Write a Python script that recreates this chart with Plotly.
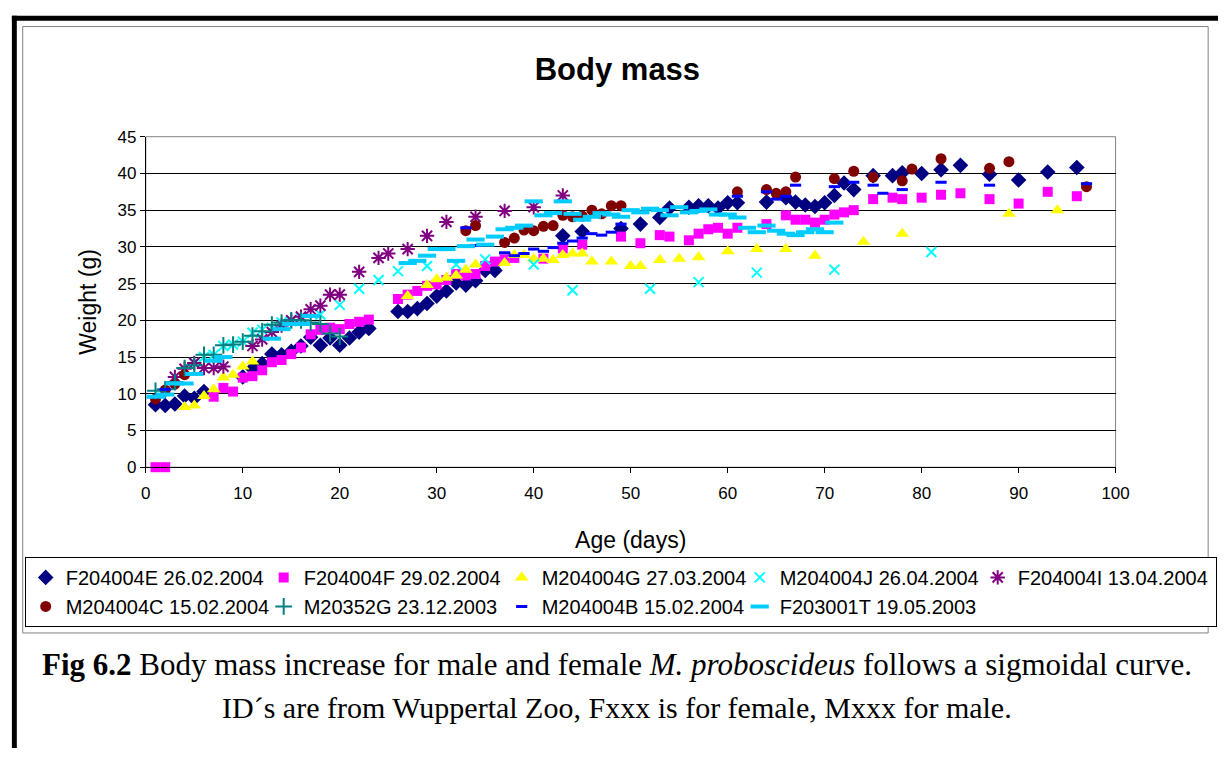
import plotly.graph_objects as go

W, H = 1232, 758

# ---------------- data ----------------
E_days = [1, 2, 3, 4, 5, 6, 10, 11, 12, 13, 14, 15, 16, 17, 18, 19, 20, 21, 22, 23,
          26, 27, 28, 29, 30, 31, 32, 33, 34, 35, 36, 43, 45, 49, 51, 53, 54, 56, 57, 58,
          59, 60, 61, 64, 66, 67, 68, 69, 70, 71, 72, 73, 75, 77, 78, 80, 82, 84, 87, 90, 93, 96]
E_wt = [8.5, 8.4, 8.6, 9.7, 9.4, 10.3, 12.3, 13.4, 14.1, 15.4, 15.3, 15.8, 16.5, 17.7, 16.6, 17.6, 16.6, 17.6, 18.4, 18.9,
        21.2, 21.2, 21.6, 22.3, 23.3, 24.0, 25.1, 24.8, 25.4, 26.8, 26.8, 31.5, 32.1, 32.5, 33.1, 34.0, 35.3, 35.4, 35.6, 35.6,
        35.3, 36.0, 36.0, 36.1, 36.7, 36.1, 35.7, 35.5, 36.0, 37.0, 38.7, 37.8, 39.7, 39.7, 40.1, 40.0, 40.5, 41.1, 39.9, 39.1, 40.2, 40.8]

F_days = [1, 2, 7, 8, 9, 10, 11, 12, 13, 14, 15, 16, 17, 18, 19, 20, 21, 22, 23,
          26, 27, 28, 29, 30, 31, 32, 33, 34, 35, 36, 37, 38,
          41, 43, 45, 49, 51, 53, 54, 56, 57, 58, 59, 60, 61,
          64, 66, 67, 68, 69, 70, 71, 72, 73,
          75, 77, 78, 80, 82, 84, 87, 90, 93, 96]
F_wt = [0, 0, 9.6, 10.8, 10.3, 12.2, 12.4, 13.2, 14.3, 14.6, 15.4, 16.3, 18.1, 18.7, 19.0, 18.8, 19.5, 19.8, 20.1,
        22.9, 23.5, 24.0, 24.7, 24.9, 25.5, 26.3, 26.1, 26.3, 27.4, 28.0, 28.3, 28.5,
        28.4, 29.8, 30.3, 31.4, 30.5, 31.6, 31.4, 30.9, 31.8, 32.4, 32.6, 31.8, 32.6,
        33.1, 34.3, 33.7, 33.7, 33.3, 33.7, 34.4, 34.7, 35.0,
        36.5, 36.7, 36.5, 36.7, 37.1, 37.3, 36.5, 35.9, 37.5, 36.9]

G_days = [4, 5, 6, 7, 8, 9, 10, 11, 27, 29, 30, 31, 32, 33, 34,
          37, 38, 39, 40, 41, 42, 43, 44, 45, 46,
          48, 50, 51, 53, 55, 57, 60, 63, 66, 69, 74, 78, 89, 94]
G_wt = [8.2, 8.4, 9.7, 10.6, 12.2, 12.6, 13.7, 14.4, 23.3, 24.8, 25.6, 25.8, 26.1, 26.9, 27.6,
        27.8, 28.9, 28.9, 28.4, 28.4, 28.2, 28.9, 29.1, 29.1, 28.0,
        28.0, 27.4, 27.4, 28.2, 28.4, 28.6, 29.4, 29.7, 29.7, 28.8, 30.7, 31.8, 34.5, 35.0]

J_days = [5, 6, 7, 8, 9, 10, 11, 12, 13, 14, 15, 16, 18, 20, 22, 24, 26, 29, 32, 35,
          40, 44, 52, 57, 63, 71, 81]
J_wt = [14.2, 15.0, 15.3, 16.5, 16.7, 17.1, 18.3, 18.7, 19.0, 19.7, 19.9, 20.3, 20.8, 22.1, 24.3, 25.5, 26.7, 27.4, 27.6, 28.3,
        27.6, 24.1, 24.3, 25.2, 26.5, 26.9, 29.3]

I_days = [3, 4, 5, 6, 7, 8, 11, 12, 13, 14, 15, 16, 17, 18, 19, 20,
          22, 24, 25, 27, 29, 31, 34, 37, 40, 43]
I_wt = [12.3, 13.4, 14.2, 13.5, 13.5, 13.7, 16.5, 17.4, 18.4, 19.3, 20.0, 20.5, 21.5, 22.0, 23.5, 23.5,
        26.6, 28.5, 29.1, 29.7, 31.5, 33.4, 34.1, 34.9, 35.4, 37.0]

C_days = [1, 2, 3, 4, 33, 34, 37, 38, 39, 40, 41, 42, 43, 44, 45, 46, 47, 48, 49,
          61, 64, 65, 66, 67, 71, 73, 75, 78, 79, 82, 87, 89, 97]
C_wt = [9.3, 10.5, 11.3, 12.6, 32.2, 32.9, 30.6, 31.2, 32.3, 32.2, 32.8, 32.9, 34.3, 34.1, 34.2, 35.0, 34.5, 35.6, 35.6,
        37.5, 37.8, 37.3, 37.5, 39.5, 39.3, 40.3, 39.5, 39.0, 40.6, 42.0, 40.7, 41.6, 38.2]

G352_days = [1, 2, 3, 4, 5, 6, 7, 8, 9, 10, 11, 12, 13, 14, 15, 16, 17, 18, 19, 20]
G352_wt = [10.4, 10.6, 11.6, 13.5, 13.9, 15.3, 15.3, 16.6, 16.7, 17.1, 17.9, 18.5, 19.4, 19.7, 20.0, 20.0, 19.7, 19.5, 18.2, 17.8]

B_days = [2, 33, 34, 37, 38, 39, 40, 41, 42, 43, 44, 45, 46, 47, 48, 49,
          61, 64, 65, 66, 67, 71, 73, 75, 76, 78, 82, 87, 97]
B_wt = [10.6, 32.6, 30.2, 29.2, 28.8, 29.1, 29.7, 29.4, 29.9, 30.5, 30.8, 31.2, 31.8, 31.6, 32.0, 33.1,
        36.9, 37.5, 36.5, 36.9, 38.4, 38.2, 38.8, 38.4, 37.3, 37.8, 38.8, 38.4, 38.6]

T_days = [1, 2, 3, 4, 5, 7, 8, 13, 14, 15, 16, 17,
          27, 28, 29, 30, 31, 32, 33, 34, 35, 36, 37, 38, 39, 40, 41, 42, 43, 44, 45, 46, 47, 48, 49,
          50, 51, 52, 53, 54, 55, 56, 57, 58, 59, 60, 61, 62, 63, 64, 65, 66, 67, 68, 69, 70, 71]
T_wt = [9.6, 9.9, 11.4, 11.4, 12.7, 14.5, 15.0, 17.5, 18.8, 19.5, 19.5, 20.6,
        27.8, 28.1, 28.8, 29.7, 29.7, 28.1, 30.1, 31.0, 30.3, 31.4, 32.4, 32.6, 32.9, 36.2, 34.3, 34.6, 36.2, 34.5, 33.7, 34.1, 34.6, 34.4, 34.1,
        35.0, 34.7, 35.2, 35.0, 34.3, 35.4, 34.7, 34.9, 35.1, 34.4, 34.4, 34.0, 32.6, 32.0, 32.9, 32.2, 31.8, 31.6, 32.0, 32.4, 32.0, 33.3]

x_ticks = [0, 10, 20, 30, 40, 50, 60, 70, 80, 90, 100]
y_ticks = [0, 5, 10, 15, 20, 25, 30, 35, 40, 45]

SANS = "Liberation Sans, Arial, sans-serif"
SERIF = "Liberation Serif, Times New Roman, serif"


def px_x(p):
    return p / W


def px_y(p):
    return 1 - p / H


fig = go.Figure()

series = [
    ("F204004E 26.02.2004", E_days, E_wt, dict(symbol="diamond", size=12, color="#000080")),
    ("F204004F 29.02.2004", F_days, F_wt, dict(symbol="square", size=10, color="#FF00FF")),
    ("M204004G 27.03.2004", G_days, G_wt, dict(symbol="triangle-up", size=12, color="#FFFF00")),
    ("M204004J 26.04.2004", J_days, J_wt, dict(symbol="x-thin-open", size=10, color="#00FFFF",
                                               line=dict(color="#00FFFF", width=2))),
    ("F204004I 13.04.2004", I_days, I_wt, dict(symbol="asterisk-open", size=12, color="#800080",
                                               line=dict(color="#800080", width=2))),
    ("M204004C 15.02.2004", C_days, C_wt, dict(symbol="circle", size=11, color="#800000")),
    ("M20352G 23.12.2003", G352_days, G352_wt, dict(symbol="cross-thin-open", size=12, color="#008080",
                                                    line=dict(color="#008080", width=2))),
    ("M204004B 15.02.2004", B_days, B_wt, dict(symbol="line-ew-open", size=8, color="#0000FF",
                                               line=dict(color="#0000FF", width=3))),
    ("F203001T 19.05.2003", T_days, T_wt, dict(symbol="line-ew-open", size=13, color="#00CCFF",
                                               line=dict(color="#00CCFF", width=4))),
]

for name, xs, ys, mk in series:
    fig.add_trace(go.Scatter(x=xs, y=ys, mode="markers", name=name, marker=mk, cliponaxis=False))

x0, x1 = 143, 1128
y0, y1 = 131, 470

shapes = [
    # outer black frame parts
    dict(type="rect", xref="paper", yref="paper", x0=px_x(7), x1=px_x(1232), y0=px_y(12), y1=px_y(7),
         fillcolor="black", line=dict(width=0), layer="above"),
    dict(type="rect", xref="paper", yref="paper", x0=px_x(7), x1=px_x(12), y0=px_y(758), y1=px_y(7),
         fillcolor="black", line=dict(width=0), layer="above"),
    # chart area frame
    dict(type="rect", xref="paper", yref="paper", x0=px_x(18), x1=px_x(1222), y0=px_y(640), y1=px_y(18),
         line=dict(color="#808080", width=1), layer="below"),
    # plot area border (gray)
    dict(type="rect", xref="paper", yref="paper", x0=px_x(x0), x1=px_x(x1), y0=px_y(y1), y1=px_y(y0),
         line=dict(color="#808080", width=1), layer="below"),
]

fig.update_layout(
    width=W, height=H,
    margin=dict(l=0, r=0, t=0, b=0, pad=0),
    paper_bgcolor="white", plot_bgcolor="white",
    font=dict(family=SANS, color="black"),
    title=dict(text="<b>Body mass</b>", font=dict(family=SANS, size=31, color="black"),
               x=px_x(622), xanchor="center", y=px_y(62), yanchor="middle", xref="paper", yref="paper"),
    xaxis=dict(domain=[px_x(x0), px_x(x1)], range=[0, 100], tickvals=x_ticks, ticktext=[str(v) for v in x_ticks],
               showgrid=False, zeroline=False, showline=True, linecolor="black", linewidth=1,
               ticks="outside", ticklen=5, tickcolor="black", tickfont=dict(size=17, family=SANS, color="black"),
               ticklabelstandoff=5,
               title=dict(text="Age (days)", font=dict(size=23, family=SANS, color="black"), standoff=30)),
    yaxis=dict(domain=[px_y(y1), px_y(y0)], range=[0, 45], tickvals=y_ticks, ticktext=[str(v) for v in y_ticks],
               showgrid=True, gridcolor="black", gridwidth=1, zeroline=False, showline=True, linecolor="black",
               linewidth=1, ticks="outside", ticklen=5, tickcolor="black",
               tickfont=dict(size=17, family=SANS, color="black"),
               title=dict(text="Weight (g)", font=dict(size=23, family=SANS, color="black"), standoff=14)),
    legend=dict(orientation="h", x=px_x(20), xanchor="left", y=px_y(562), yanchor="top",
                font=dict(size=20, family=SANS, color="black"), bordercolor="black", borderwidth=1,
                bgcolor="white", entrywidth=193, entrywidthmode="pixels", itemwidth=30, tracegroupgap=0),
    shapes=shapes,
    annotations=[
        dict(text="<b>Fig 6.2</b> Body mass increase for male and female <i>M. proboscideus</i> follows a sigmoidal curve.",
             x=px_x(622), y=px_y(672), xref="paper", yref="paper", xanchor="center", yanchor="middle",
             showarrow=False, font=dict(family=SERIF, size=31, color="black")),
        dict(text="ID´s are from Wuppertal Zoo, Fxxx is for female, Mxxx for male.",
             x=px_x(622), y=px_y(716), xref="paper", yref="paper", xanchor="center", yanchor="middle",
             showarrow=False, font=dict(family=SERIF, size=30, color="black")),
    ],
)

fig.write_html(
    "out.html",
    config={"displayModeBar": False},
    post_script=(
        "document.documentElement.style.margin='0px';"
        "document.documentElement.style.overflow='hidden';"
        "document.body.style.margin='0px';document.body.style.padding='0px';"
        "document.body.style.overflow='hidden';"
        "var gd=document.getElementById('{plot_id}');"
        "gd.style.position='fixed';gd.style.left='0px';gd.style.top='0px';"
    ),
)
